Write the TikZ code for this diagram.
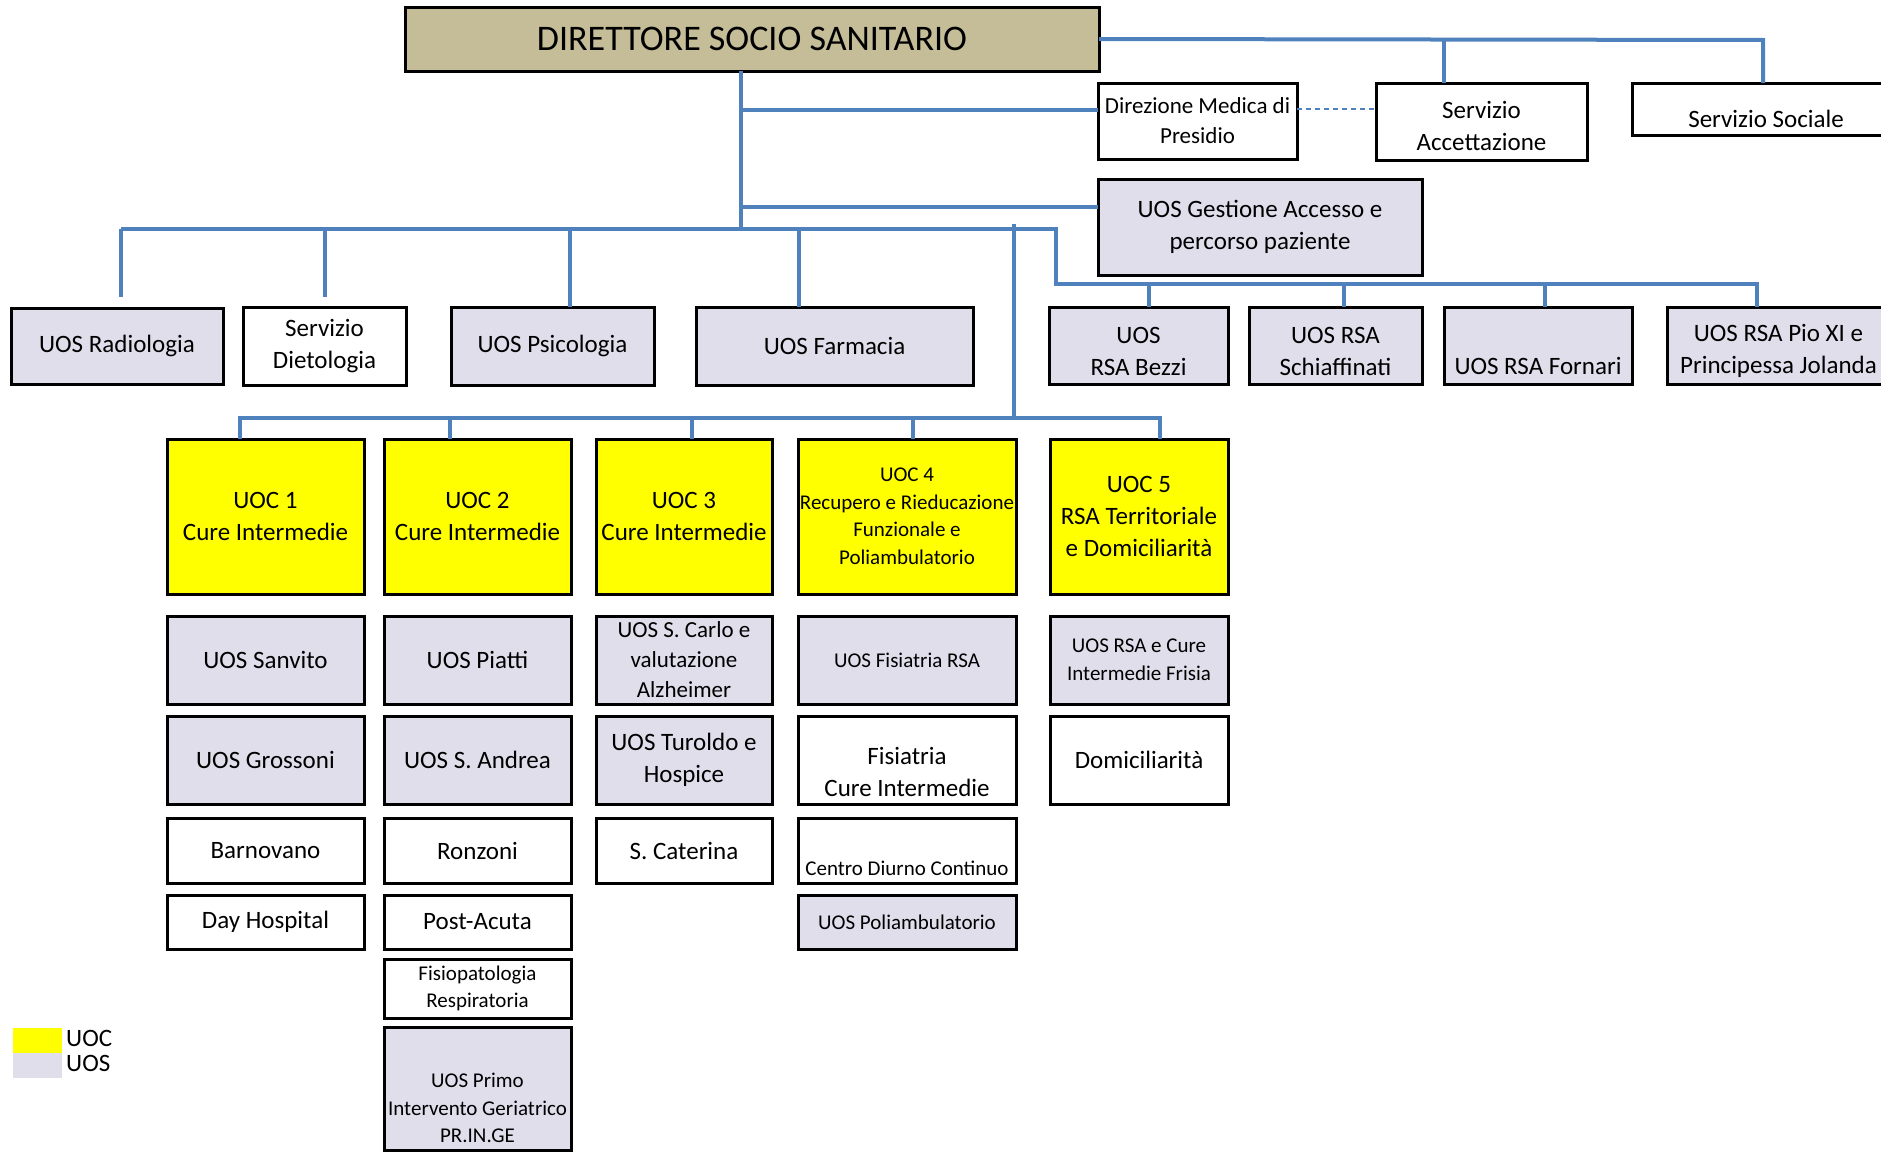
\documentclass[tikz,border=0pt]{standalone}
\usepackage{fontspec}
\setmainfont{Carlito}

\definecolor{tanbox}{HTML}{C4BD97}
\definecolor{uocyellow}{HTML}{FFFF00}
\definecolor{uoslilac}{HTML}{E1DEEC}
\definecolor{linkblue}{HTML}{4F81BD}

\tikzset{
	box/.style = {draw, line width = 3pt, inner sep = 0pt, outer sep = 0pt, align = center},
	uoc/.style = {box, fill = uocyellow},
	uos/.style = {box, fill = uoslilac},
	srv/.style = {box, fill = white},
	link/.style = {draw = linkblue, line width = 4pt},
	dotlink/.style = {draw = linkblue, line width = 1.5pt, dash pattern = on 5pt off 4pt},
	txt/.style = {font = \fontsize{25}{32}\selectfont},
	mid/.style = {font = \fontsize{23}{30}\selectfont},
	sml/.style = {font = \fontsize{21}{27.5}\selectfont}
}

% box from corner (#3,#4) to corner (#5,#6)
\newcommand{\orgbox}[7]{%
	\node [#2, minimum width = {(#5-#3)*1pt}, minimum height = {(#6-#4)*1pt}]
		(#1) at ({(#3+#5)/2}, {(#4+#6)/2}) {#7};}

\begin{document}
\begin{tikzpicture}[x = 1pt, y = -1pt]

	\useasboundingbox (0, 0) rectangle (1881, 1151);
	\clip (0, 0) rectangle (1881, 1151);

	% Director and staff
	
	\orgbox{dir}{box, fill = tanbox, font = \fontsize{36}{40}\selectfont}{405}{7}{1099}{71}{DIRETTORE SOCIO SANITARIO}
	\orgbox{dmp}{srv, mid}{1098}{83}{1297}{159}{Direzione Medica di\\Presidio}
	\orgbox{acc}{srv, txt}{1376}{83}{1587}{160}{\mbox{}\\[-5pt]Servizio\\Accettazione}
	\orgbox{soc}{srv, txt}{1632}{83}{1900}{135}{\mbox{}\\[5pt]Servizio Sociale}
	\orgbox{ges}{uos, txt}{1098}{179}{1422}{275}{UOS Gestione Accesso e\\percorso paziente}
	
	% Second row
	
	\orgbox{rad}{uos, txt}{11}{308}{223}{384}{UOS Radiologia}
	\orgbox{diet}{srv, txt}{243}{307}{406}{385}{Servizio\\Dietologia}
	\orgbox{psi}{uos, txt}{451}{307}{654}{385}{UOS Psicologia}
	\orgbox{farm}{uos, txt}{696}{307}{973}{385}{UOS Farmacia}
	\orgbox{bez}{uos, txt}{1049}{307}{1228}{384}{\mbox{}\\[-3pt]UOS\\RSA Bezzi}
	\orgbox{sch}{uos, txt}{1249}{307}{1422}{384}{\mbox{}\\[-3pt]UOS RSA\\Schiaffinati}
	\orgbox{forn}{uos, txt}{1444}{307}{1632}{384}{\mbox{}\\[26pt]UOS RSA Fornari}
	\orgbox{pio}{uos, txt}{1667}{307}{1890}{384}{\mbox{}\\[-3pt]UOS RSA Pio XI e\\Principessa Jolanda}
	
	% UOC heads
	
	\orgbox{uoc1}{uoc, txt}{167}{439}{364}{594}{UOC 1\\Cure Intermedie}
	\orgbox{uoc2}{uoc, txt}{384}{439}{571}{594}{UOC 2\\Cure Intermedie}
	\orgbox{uoc3}{uoc, txt}{596}{439}{772}{594}{UOC 3\\Cure Intermedie}
	\orgbox{uoc4}{uoc, sml}{798}{439}{1016}{594}{UOC 4\\Recupero e Rieducazione\\Funzionale e\\Poliambulatorio}
	\orgbox{uoc5}{uoc, txt}{1050}{439}{1228}{594}{UOC 5\\RSA Territoriale\\e Domiciliarità}
	
	% Units under each UOC
	
	\orgbox{sanv}{uos, txt}{167}{616}{364}{704}{UOS Sanvito}
	\orgbox{gros}{uos, txt}{167}{716}{364}{804}{UOS Grossoni}
	\orgbox{barn}{srv, txt}{167}{818}{364}{883}{Barnovano}
	\orgbox{dayh}{srv, txt}{167}{895}{364}{949}{Day Hospital}
	
	\orgbox{piat}{uos, txt}{384}{616}{571}{704}{UOS Piatti}
	\orgbox{andr}{uos, txt}{384}{716}{571}{804}{UOS S. Andrea}
	\orgbox{ronz}{srv, txt}{384}{818}{571}{883}{Ronzoni}
	\orgbox{post}{srv, txt}{384}{895}{571}{949}{Post-Acuta}
	\orgbox{fisp}{srv, sml}{384}{959}{571}{1018}{Fisiopatologia\\Respiratoria}
	\orgbox{prim}{uos, sml}{384}{1027}{571}{1150}{\mbox{}\\[26pt]UOS Primo\\Intervento Geriatrico\\PR.IN.GE}
	
	\orgbox{carl}{uos, mid}{596}{616}{772}{704}{UOS S. Carlo e\\valutazione\\Alzheimer}
	\orgbox{turo}{uos, txt}{596}{716}{772}{804}{UOS Turoldo e\\Hospice}
	\orgbox{cate}{srv, txt}{596}{818}{772}{883}{S. Caterina}
	
	\orgbox{frsa}{uos, sml}{798}{616}{1016}{704}{UOS Fisiatria RSA}
	\orgbox{fsci}{srv, txt}{798}{716}{1016}{804}{\mbox{}\\[10pt]Fisiatria\\Cure Intermedie}
	\orgbox{diur}{srv, sml}{798}{818}{1016}{883}{\mbox{}\\[23.5pt]Centro Diurno Continuo}
	\orgbox{poli}{uos, sml}{798}{895}{1016}{949}{UOS Poliambulatorio}
	
	\orgbox{fris}{uos, sml}{1050}{616}{1228}{704}{UOS RSA e Cure\\Intermedie Frisia}
	\orgbox{domi}{srv, txt}{1050}{716}{1228}{804}{Domiciliarità}
	
	% Junction points
	
	\coordinate (trBot) at (741, 229);
	\coordinate (jDmp) at (741, 110);
	\coordinate (jGes) at (741, 207);
	\coordinate (rAcc) at (1444, 40);
	\coordinate (rSoc) at (1763, 40);
	\coordinate (busL) at (121, 229);
	\coordinate (busR) at (1056, 229);
	\coordinate (dDiet) at (325, 229);
	\coordinate (dPsi) at (570, 229);
	\coordinate (dFarm) at (799, 229);
	\coordinate (rsaL) at (1056, 284);
	\coordinate (rsaR) at (1757, 284);
	\coordinate (dBez) at (1149, 284);
	\coordinate (dSch) at (1344, 284);
	\coordinate (dForn) at (1545, 284);
	\coordinate (uTop) at (1014, 224);
	\coordinate (uL) at (240, 418);
	\coordinate (uR) at (1160, 418);
	\coordinate (dU2) at (450, 418);
	\coordinate (dU3) at (692, 418);
	\coordinate (dU4) at (913, 418);
	
	% Connectors
	
	\begin{scope}[link]
	
		\draw (dir.south -| trBot) -- (trBot);
		\draw (jDmp) -- (jDmp -| dmp.west);
		\draw (jGes) -- (jGes -| ges.west);
		\draw (dir.east) -- (rSoc) -- (rSoc |- soc.north);
		\draw (rAcc) -- (rAcc |- acc.north);
		
		\draw (busL) -- (busR) -- (rsaL) -- (rsaR) -- (rsaR |- pio.north);
		\draw [shorten > = 11pt] (busL) -- (busL |- rad.north);
		\draw [shorten > = 10pt] (dDiet) -- (dDiet |- diet.north);
		\draw (dPsi) -- (dPsi |- psi.north);
		\draw (dFarm) -- (dFarm |- farm.north);
		\draw (dBez) -- (dBez |- bez.north);
		\draw (dSch) -- (dSch |- sch.north);
		\draw (dForn) -- (dForn |- forn.north);
		
		\draw (uTop) -- (uTop |- uL);
		\draw (uL |- uoc1.north) -- (uL) -- (uR) -- (uR |- uoc5.north);
		\draw (dU2) -- (dU2 |- uoc2.north);
		\draw (dU3) -- (dU3 |- uoc3.north);
		\draw (dU4) -- (dU4 |- uoc4.north);
		
	\end{scope}
	
	\draw [dotlink] ([yshift = 12pt] dmp.east) -- ([yshift = 12pt] dmp.east -| acc.west);
	
	% Legend
	
	\node [fill = uocyellow, minimum width = 49pt, minimum height = 25pt, inner sep = 0pt] (legUoc) at (37.5, 1040.5) {};
	\node [fill = uoslilac, minimum width = 49pt, minimum height = 25pt, inner sep = 0pt] (legUos) at (37.5, 1065.5) {};
	\node [txt, anchor = west, inner sep = 0pt] (legUocT) at (66, 1038) {UOC};
	\node [txt, anchor = west, inner sep = 0pt] (legUosT) at (66, 1063) {UOS};

\end{tikzpicture}
\end{document}
